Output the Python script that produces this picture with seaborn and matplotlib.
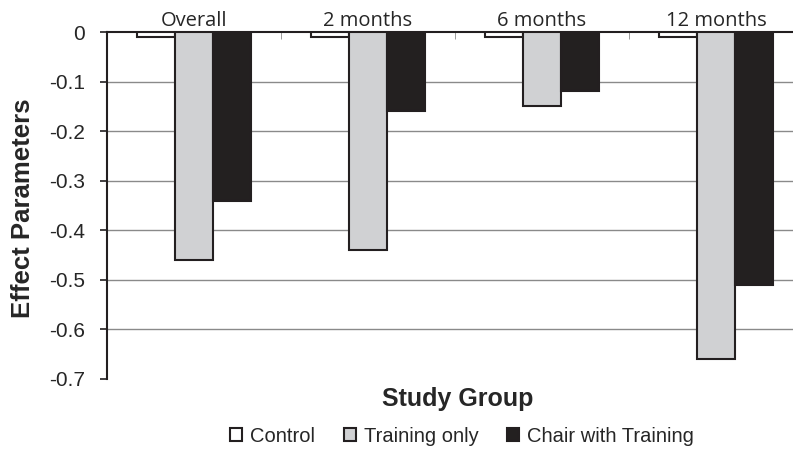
import matplotlib
matplotlib.use("Agg")
import matplotlib.pyplot as plt
import seaborn as sns
import pandas as pd
import numpy as np

categories = ["Overall", "2 months", "6 months", "12 months"]
groups = ["Control", "Training only", "Chair with Training"]
control = [-0.01, -0.01, -0.01, -0.01]
training_only = [-0.46, -0.44, -0.15, -0.66]
chair_with_training = [-0.34, -0.16, -0.12, -0.51]
yticks = [0, -0.1, -0.2, -0.3, -0.4, -0.5, -0.6, -0.7]
ytick_labels = ["0", "-0.1", "-0.2", "-0.3", "-0.4", "-0.5", "-0.6", "-0.7"]

rows = []
for series, vals in zip(groups, [control, training_only, chair_with_training]):
    for c, v in zip(categories, vals):
        rows.append({"Category": c, "Group": series, "Value": v})
df = pd.DataFrame(rows)

sns.set_style("white")
plt.rcParams['font.family'] = ['Liberation Sans', 'DejaVu Sans']

fig = plt.figure(figsize=(7.93, 4.54), dpi=100)
W, H = 793, 454
ax = fig.add_axes([107 / W, 1 - 379 / H, (803 - 107) / W, (379 - 32) / H])

palette = {"Control": "#ffffff", "Training only": "#d0d1d3", "Chair with Training": "#231f20"}
sns.barplot(data=df, x="Category", y="Value", hue="Group", order=categories,
            hue_order=groups, palette=palette, width=0.66, edgecolor="#231f20",
            linewidth=1.5, ax=ax, legend=True, zorder=3)

ax.set_ylim(-0.7, 0)
ax.set_xlim(-0.5, 3.5)
ax.set_yticks(yticks)
ax.set_yticklabels(ytick_labels, fontsize=15)
for y in yticks[1:-1]:
    ax.axhline(y, color="#8a8a8a", linewidth=1.0, zorder=1)

ax.xaxis.tick_top()
ax.set_xticks(range(len(categories)))
ax.set_xticklabels(categories, fontsize=14.5, family=['Open Sans', 'DejaVu Sans'])
ax.tick_params(axis='x', which='major', length=0, pad=1)
ax.set_xticks([0.5, 1.5, 2.5], minor=True)
ax.tick_params(axis='x', which='minor', direction='in', length=5, color="#8a8a8a", top=True)
ax.tick_params(axis='y', which='major', direction='out', length=5, width=1.2, color="#231f20", left=True, pad=11)

for s in ["right", "bottom"]:
    ax.spines[s].set_visible(False)
ax.spines["left"].set_color("#231f20")
ax.spines["left"].set_linewidth(1.5)
ax.spines["top"].set_color("#231f20")
ax.spines["top"].set_linewidth(1.5)

ax.set_ylabel("")
ax.set_xlabel("")
fig.text(23 / W, 1 - 208 / H, "Effect Parameters", fontsize=18.5, fontweight="bold",
         rotation=90, ha="center", va="center")
fig.text(458 / W, 1 - 399 / H, "Study Group", fontsize=18, fontweight="bold", ha="center", va="center")

handles, labels = ax.get_legend_handles_labels()
ax.legend_.remove()
fig.legend(handles, labels, loc="center", bbox_to_anchor=(462 / W, 1 - 436 / H), ncol=3,
           frameon=False, fontsize=14.5, handlelength=0.6, handleheight=0.6,
           handletextpad=0.4, columnspacing=1.4)

fig.savefig("out.png", dpi=100)
